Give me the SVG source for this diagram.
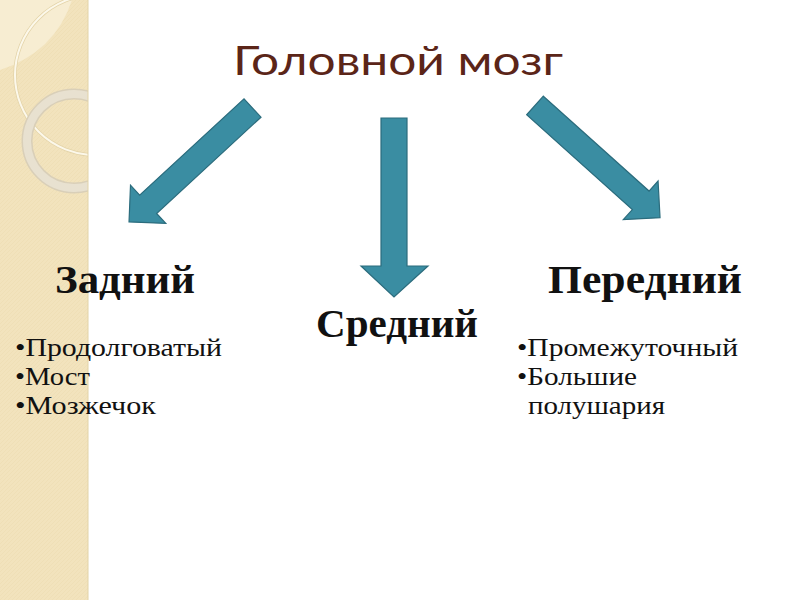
<svg xmlns="http://www.w3.org/2000/svg" width="800" height="600" viewBox="0 0 800 600">
  <defs>
    <style>
      .title { font-family: "Lato", "Open Sans", "DejaVu Sans", sans-serif; font-size: 41px; fill: #5b2518; }
      .head { font-family: "Liberation Serif", "DejaVu Serif", serif; font-weight: bold; font-size: 40px; fill: #111; }
      .item { font-family: "Liberation Serif", "DejaVu Serif", serif; font-size: 24.5px; fill: #111; }
      .arrow { fill: #3a8da2; stroke: #2b6c7d; stroke-width: 1.2; stroke-linejoin: miter; }
    </style>
    <pattern id="tex" width="4" height="4" patternUnits="userSpaceOnUse">
      <rect width="4" height="4" fill="#f2e3bd"/>
      <path d="M0,4 L4,0" stroke="#ecdcb2" stroke-width="0.6"/>
    </pattern>
    <clipPath id="strip"><rect x="0" y="0" width="88" height="600"/></clipPath>
    <path id="darrow" d="M0,-12.5 L142,-12.5 L142,-26 L168,0 L142,26 L142,12.5 L0,12.5 Z"/>
  </defs>

  <rect width="800" height="600" fill="#ffffff"/>

  <g id="background-strip">
    <rect x="0" y="0" width="88" height="600" fill="url(#tex)"/>
    <g clip-path="url(#strip)">
      <path d="M0,0 L72,0 Q55,52 0,70 Z" fill="#f7edd2"/>
      <circle cx="95" cy="75" r="80" fill="none" stroke="#e3d3a8" stroke-width="3.5"/>
      <circle cx="95" cy="75" r="80" fill="none" stroke="#fcf8ea" stroke-width="2"/>
      <circle cx="74" cy="141" r="47" fill="none" stroke="#d9cfb8" stroke-width="11"/>
      <circle cx="74" cy="141" r="47" fill="none" stroke="#e8e1d0" stroke-width="8"/>
    </g>
    <line x1="88" y1="0" x2="88" y2="600" stroke="#e2d3a8" stroke-width="1"/>
  </g>

  <g id="title">
    <text class="title" x="233" y="75" textLength="330" lengthAdjust="spacingAndGlyphs">Головной мозг</text>
  </g>

  <g id="connectors">
    <use href="#darrow" class="arrow" transform="translate(252.5,108) rotate(137.3)"/>
    <path class="arrow" d="M381,118 L407,118 L407,266 L428,266 L394,297 L361,266 L381,266 Z"/>
    <use href="#darrow" class="arrow" transform="translate(535,105.5) rotate(41.9)"/>
  </g>

  <g id="node-zadniy">
    <text class="head" x="55" y="293" textLength="140" lengthAdjust="spacingAndGlyphs">Задний</text>
    <text class="item" x="15" y="356" textLength="207" lengthAdjust="spacingAndGlyphs">•Продолговатый</text>
    <text class="item" x="15" y="385" textLength="75" lengthAdjust="spacingAndGlyphs">•Мост</text>
    <text class="item" x="15" y="414" textLength="141" lengthAdjust="spacingAndGlyphs">•Мозжечок</text>
  </g>

  <g id="node-sredniy">
    <text class="head" x="316" y="337" textLength="162" lengthAdjust="spacingAndGlyphs">Средний</text>
  </g>

  <g id="node-peredniy">
    <text class="head" x="548" y="293" textLength="194" lengthAdjust="spacingAndGlyphs">Передний</text>
    <text class="item" x="517" y="356" textLength="221" lengthAdjust="spacingAndGlyphs">•Промежуточный</text>
    <text class="item" x="517" y="385" textLength="120" lengthAdjust="spacingAndGlyphs">•Большие</text>
    <text class="item" x="528" y="414" textLength="137" lengthAdjust="spacingAndGlyphs">полушария</text>
  </g>
</svg>
